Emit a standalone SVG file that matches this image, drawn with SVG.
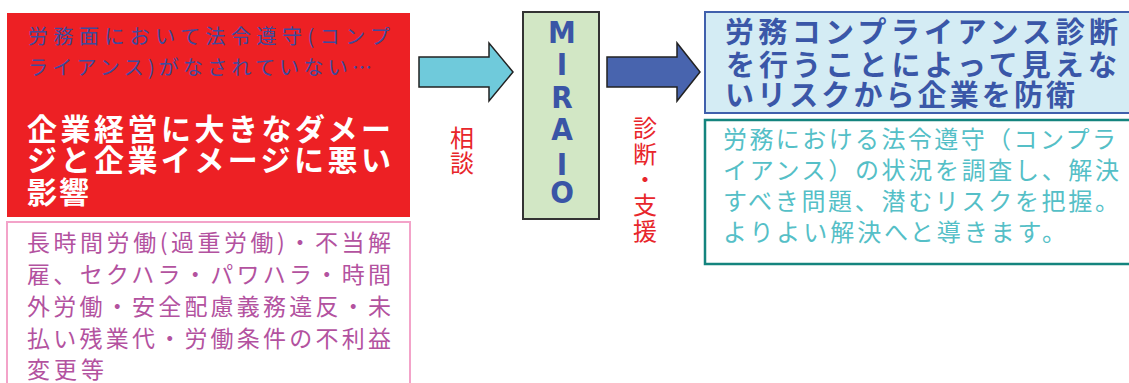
<svg xmlns="http://www.w3.org/2000/svg" width="1129" height="383" viewBox="0 0 1129 383">
<style>
.jp{font-family:"Noto Sans CJK JP","Noto Sans",sans-serif}
.cal{font-size:20px;fill:#3f4a9c}
.wh{font-size:30px;font-weight:bold;fill:#ffffff}
.pk{font-size:23px;fill:#b3529f}
.lbl{font-size:24px;fill:#e8262b;writing-mode:vertical-rl}
.mir{font-family:"Liberation Sans Narrow","DejaVu Sans Condensed","Liberation Sans",sans-serif;font-size:31px;font-weight:bold;fill:#3a55a6;text-anchor:middle}
.bt{font-size:29px;font-weight:bold;fill:#3a57a8}
.tl{font-size:24px;fill:#55bfc7}
.arr{stroke:#222;stroke-width:1.5;stroke-linejoin:miter}
</style>
<rect width="1129" height="383" fill="#ffffff"/>

<g id="problem">
<rect x="7" y="13" width="403" height="204" fill="#ed2024"/>
<text class="jp cal"><tspan x="28" y="44" textLength="362" lengthAdjust="spacing">労務面において法令遵守(コンプ</tspan><tspan x="28" y="75" textLength="344" lengthAdjust="spacing">ライアンス)がなされていない…</tspan></text>
<text class="jp wh"><tspan x="27" y="140" textLength="364" lengthAdjust="spacing">企業経営に大きなダメー</tspan><tspan x="27" y="171" textLength="364" lengthAdjust="spacing">ジと企業イメージに悪い</tspan><tspan x="27" y="203" textLength="62" lengthAdjust="spacing">影響</tspan></text>
</g>

<g id="examples">
<rect x="7" y="222" width="403" height="170" fill="#ffffff" stroke="#f3a3c9" stroke-width="2"/>
<text class="jp pk"><tspan x="27" y="251" textLength="364" lengthAdjust="spacing">長時間労働(過重労働)・不当解</tspan><tspan x="27" y="283" textLength="364" lengthAdjust="spacing">雇、セクハラ・パワハラ・時間</tspan><tspan x="27" y="315" textLength="364" lengthAdjust="spacing">外労働・安全配慮義務違反・未</tspan><tspan x="27" y="347" textLength="364" lengthAdjust="spacing">払い残業代・労働条件の不利益</tspan><tspan x="27" y="378" textLength="77" lengthAdjust="spacing">変更等</tspan></text>
</g>

<g id="connectors">
<polygon class="arr" points="419,57 489,57 489,43 513,72 489,101 489,87 419,87" fill="#6fcadb"/>
<polygon class="arr" points="607,57 677,57 677,43 700,72 677,101 677,87 607,87" fill="#4864ae"/>
<text class="jp lbl" x="462" y="126" letter-spacing="1">相談</text>
<text class="jp lbl" x="645" y="116" letter-spacing="1.6">診断・支援</text>
</g>

<g id="miraio">
<rect x="523" y="12" width="76" height="207" fill="#d2e7c5" stroke="#333333" stroke-width="2"/>
<text class="mir"><tspan x="562" y="43">M</tspan><tspan x="562" y="75">I</tspan><tspan x="562" y="108">R</tspan><tspan x="562" y="140">A</tspan><tspan x="562" y="175">I</tspan><tspan x="562" y="203">O</tspan></text>
</g>

<g id="result">
<rect x="705" y="12" width="440" height="101" fill="#d4ecf4" stroke="#4060ac" stroke-width="2"/>
<text class="jp bt"><tspan x="725" y="43" textLength="393" lengthAdjust="spacing">労務コンプライアンス診断</tspan><tspan x="726" y="76" textLength="391" lengthAdjust="spacing">を行うことによって見えな</tspan><tspan x="725" y="106" textLength="350" lengthAdjust="spacing">いリスクから企業を防衛</tspan></text>
</g>

<g id="description">
<rect x="705" y="120" width="440" height="144" fill="#ffffff" stroke="#14847e" stroke-width="2.5"/>
<text class="jp tl"><tspan x="723" y="148" textLength="393" lengthAdjust="spacing">労務における法令遵守（コンプラ</tspan><tspan x="723" y="179" textLength="396" lengthAdjust="spacing">イアンス）の状況を調査し、解決</tspan><tspan x="723" y="210" textLength="396" lengthAdjust="spacing">すべき問題、潜むリスクを把握。</tspan><tspan x="723" y="241" textLength="343" lengthAdjust="spacing">よりよい解決へと導きます。</tspan></text>
</g>
</svg>
